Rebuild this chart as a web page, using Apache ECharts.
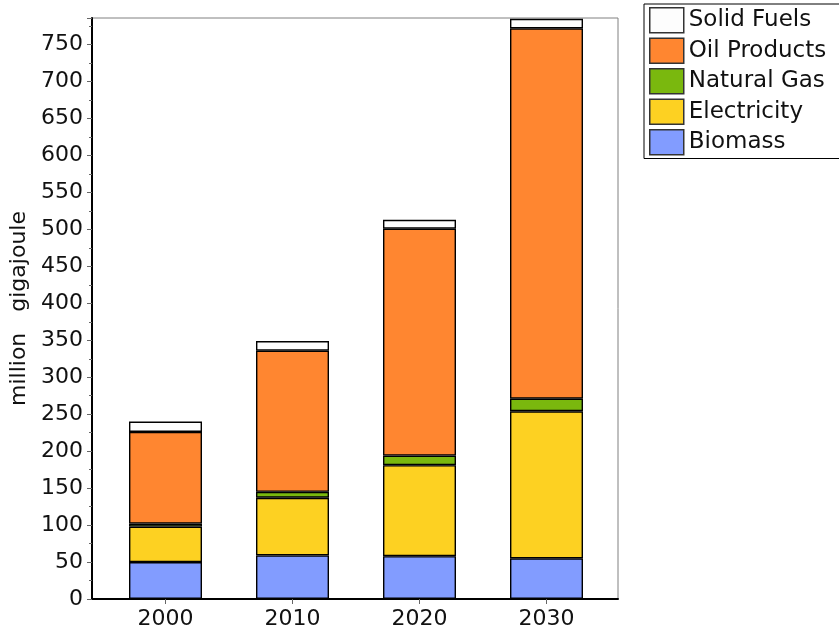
<!DOCTYPE html>
<html>
<head>
<meta charset="utf-8">
<style>
  html, body { margin: 0; padding: 0; background: #ffffff; }
  #chart { width: 839px; height: 634px; }
</style>
<script src="https://cdn.jsdelivr.net/npm/echarts@6/dist/echarts.min.js"></script>
</head>
<body>
<div id="chart"></div>
<script>
// Energy use by carrier, million gigajoule
const years = ['2000', '2010', '2020', '2030'];
const biomass = [50, 59, 58, 55];
const electricity = [48, 78, 123, 199];
const naturalGas = [4, 8, 13, 17];
const oilProducts = [124, 191, 307, 501];
const solidFuels = [14, 13, 12, 13];
const legendOrder = ['Solid Fuels', 'Oil Products', 'Natural Gas', 'Electricity', 'Biomass'];

const yMax = 786;
const font = 'DejaVu Sans';

const chart = echarts.init(document.getElementById('chart'), null, { renderer: 'canvas' });

function barSeries(name, data, color) {
  return {
    name: name,
    type: 'bar',
    stack: 'total',
    xAxisIndex: 1,
    yAxisIndex: 1,
    barWidth: 73,
    data: data,
    itemStyle: { color: color, borderColor: '#000', borderWidth: 1.4 },
    emphasis: { disabled: true }
  };
}

chart.setOption({
  animation: false,
  backgroundColor: '#ffffff',
  textStyle: { fontFamily: font },
  legend: {
    data: legendOrder,
    orient: 'vertical',
    left: 644,
    top: 4,
    icon: 'rect',
    itemWidth: 34,
    itemHeight: 25,
    itemGap: 4,
    padding: [3, 30, 3, 5],
    borderColor: '#000',
    borderWidth: 1,
    backgroundColor: '#ffffff',
    itemStyle: { borderColor: '#333', borderWidth: 1.5 },
    textStyle: { fontSize: 23, lineHeight: 26, color: '#111', fontFamily: font },
    selectedMode: false
  },
  grid: [
    // frame with the value axis
    { left: 92, right: 221, top: 18, bottom: 35, show: true, borderColor: '#808080', borderWidth: 1, backgroundColor: '#ffffff' },
    // bar layout
    { left: 102, width: 508, top: 18, bottom: 35 }
  ],
  xAxis: [
    {
      gridIndex: 0, type: 'value', min: 0, max: 1,
      axisLine: { show: true, lineStyle: { color: '#000', width: 2 } },
      axisTick: { show: false }, axisLabel: { show: false }, splitLine: { show: false }
    },
    {
      gridIndex: 1, type: 'category', data: years,
      axisLine: { show: false },
      axisTick: { show: true, alignWithLabel: true, length: 5, lineStyle: { color: '#666' } },
      axisLabel: { fontSize: 22, color: '#111', margin: 9, fontFamily: font },
      splitLine: { show: false }
    }
  ],
  yAxis: [
    {
      gridIndex: 0, type: 'value', min: 0, max: yMax, interval: 50,
      name: 'million   gigajoule', nameLocation: 'middle', nameGap: 56,
      nameTextStyle: { fontSize: 22, color: '#111', fontFamily: font },
      axisLine: { show: true, lineStyle: { color: '#000', width: 2 } },
      axisTick: { show: true, length: 5, lineStyle: { color: '#666' } },
      minorTick: { show: true, splitNumber: 2, length: 3, lineStyle: { color: '#666' } },
      axisLabel: {
        fontSize: 22, color: '#111', margin: 9, fontFamily: font, showMaxLabel: false,
        formatter: v => (v % 50 === 0 ? String(v) : '')
      },
      splitLine: { show: false }
    },
    { gridIndex: 1, type: 'value', min: 0, max: yMax, show: false }
  ],
  series: [
    barSeries('Biomass', biomass, '#829cff'),
    barSeries('Electricity', electricity, '#fdd122'),
    barSeries('Natural Gas', naturalGas, '#7ab80e'),
    barSeries('Oil Products', oilProducts, '#ff8630'),
    barSeries('Solid Fuels', solidFuels, '#fdfdfd')
  ]
});
</script>
</body>
</html>
